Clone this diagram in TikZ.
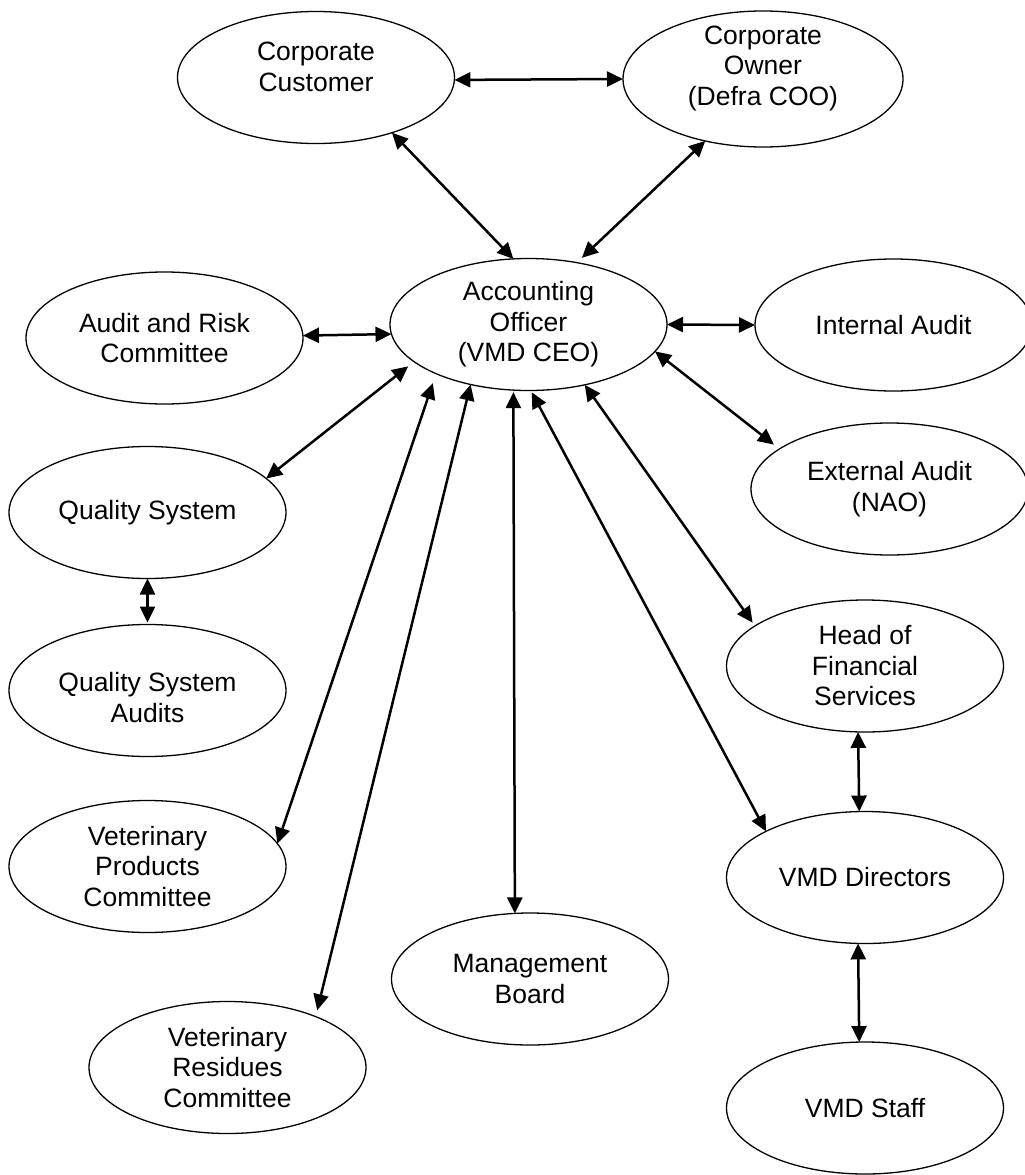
\documentclass[tikz,border=0pt]{standalone}
\usepackage{fontspec}
\setmainfont{Liberation Sans}
\usetikzlibrary{arrows.meta,shapes.geometric}
\begin{document}
\begin{tikzpicture}[x=1pt,y=-1pt,
  ell/.style={ellipse,draw=black,line width=1.3pt,minimum width=277pt,minimum height=132pt,
    inner sep=0pt,outer sep=0pt,align=center,font=\fontsize{26.5pt}{30.5pt}\selectfont},
  txt/.style={inner sep=0pt,align=center,font=\fontsize{26.5pt}{30.5pt}\selectfont},
  arr/.style={line width=2.5pt,{Triangle[length=16pt,width=15pt]}-{Triangle[length=16pt,width=15pt]}}
]
\useasboundingbox (0,0) rectangle (1025,1175);
\clip (0,0) rectangle (1025,1175);

% nodes
\node[ell] (cc) at (316,77.5) {};
\node[txt] (cctext) at ([yshift=10.5pt]cc.center) {Corporate\\Customer};
\node[ell,minimum width=280pt,minimum height=136pt] (co) at (763,79) {};
\node[txt] (cotext) at ([yshift=11pt]co.center) {Corporate\\Owner\\(Defra COO)};
\node[ell] (ao) at (528.5,324.5) {Accounting\\Officer\\(VMD CEO)};
\node[ell] (arc) at (164.5,338) {Audit and Risk\\Committee};
\node[ell] (ia) at (893.5,325) {Internal Audit};
\node[ell] (ea) at (889.5,489) {External Audit\\(NAO)};
\node[ell] (qs) at (147.5,512.5) {Quality System};
\node[ell] (qsa) at (147.5,690.5) {};
\node[txt] (qsatext) at ([yshift=-7pt]qsa.center) {Quality System\\Audits};
\node[ell] (hfs) at (865,666) {Head of\\Financial\\Services};
\node[ell] (vpc) at (147.5,866.5) {Veterinary\\Products\\Committee};
\node[ell] (vmdd) at (865,877.5) {VMD Directors};
\node[ell] (mb) at (530,979) {Management\\Board};
\node[ell] (vrc) at (227.5,1067.5) {Veterinary\\Residues\\Committee};
\node[ell] (st) at (865,1108) {VMD Staff};

% connectors
\draw[arr] (cc.-1) -- (co.180);
\draw[arr] (cc.-36) -- (ao.103);
\draw[arr,shorten >=7pt] (co.227) -- (ao.52);
\draw[arr] (arc.1) -- (ao.184);
\draw[arr] (ao.0) -- (ia.180);
\draw[arr,shorten >=7pt] (ao.-12.6) -- (ea.160);
\draw[arr,shorten <=7.5pt] (ao.198) -- (qs.16);
\draw[arr,shorten >=2pt] (qs.south) -- (qsa.north);
\draw[arr,shorten <=10pt] (ao.208) -- (vpc.10.6);
\draw[arr,shorten >=6.5pt] (ao.226) -- (vrc.30.8);
\draw[arr,shorten <=2pt] (ao.257.6) -- (mb.103.7);
\draw[arr,shorten <=2pt] (ao.272.9) -- (vmdd.155);
\draw[arr,shorten >=4pt] (ao.313.5) -- (hfs.160);
\draw[arr] (hfs.264.8) -- (vmdd.95.2);
\draw[arr] (vmdd.264.8) -- (st.95.4);
\end{tikzpicture}
\end{document}
